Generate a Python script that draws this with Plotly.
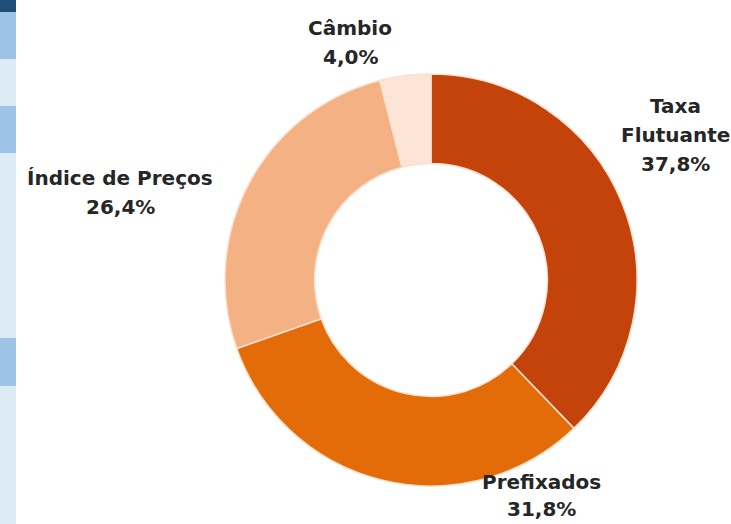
import plotly.graph_objects as go

# Data
categories = ["Taxa Flutuante", "Prefixados", "Índice de Preços", "Câmbio"]
values = [37.8, 31.8, 26.4, 4.0]
label_lines = [["Taxa", "Flutuante"], ["Prefixados"], ["Índice de Preços"], ["Câmbio"]]

# Style
colors = ["#C4430B", "#E36C09", "#F4B183", "#FCE4D6"]
W, H = 731, 524
cx, cy, r = 431, 280, 206
label_centers = [(675, 135), (541, 495), (120, 192), (350, 42)]
line_gaps = [29, 27, 29, 29]
font = dict(family="DejaVu Sans", size=20, color="#262626")

fig = go.Figure(go.Pie(
    labels=categories,
    values=values,
    sort=False,
    direction="clockwise",
    rotation=0,
    hole=0.565,
    textinfo="none",
    hoverinfo="label+percent",
    marker=dict(colors=colors, line=dict(color="#FBE0CE", width=1.5)),
    domain=dict(x=[(cx - r) / W, (cx + r) / W], y=[(H - cy - r) / H, (H - cy + r) / H]),
    showlegend=False,
))

annotations = []
for lines, v, (px, py), gap in zip(label_lines, values, label_centers, line_gaps):
    all_lines = lines + [f"{v:.1f}".replace(".", ",") + "%"]
    n = len(all_lines)
    for i, t in enumerate(all_lines):
        off = (i - (n - 1) / 2) * gap
        annotations.append(dict(
            text=f"<b>{t}</b>", x=px / W, y=1 - (py + off) / H,
            xref="paper", yref="paper", xanchor="center", yanchor="middle",
            showarrow=False, font=font, borderpad=0,
        ))

# Left decorative strip (table edge from the source slide)
strip = [(0, 12, "#1F4E79"), (12, 59, "#9DC3E6"), (59, 106, "#DDEBF7"),
         (106, 153, "#9DC3E6"), (153, 338, "#DDEBF7"), (338, 386, "#9DC3E6"),
         (386, 524, "#DDEBF7")]
shapes = [dict(type="rect", xref="paper", yref="paper", x0=0, x1=16 / W,
               y0=1 - b / H, y1=1 - a / H, fillcolor=c, line=dict(width=0), layer="below")
          for a, b, c in strip]

fig.update_layout(
    width=W, height=H,
    margin=dict(l=0, r=0, t=0, b=0),
    paper_bgcolor="white", plot_bgcolor="white",
    annotations=annotations, shapes=shapes,
)

fig.write_html("out.html", config={"displayModeBar": False},
               post_script="document.body.style.margin='0';document.body.style.overflow='hidden';")
